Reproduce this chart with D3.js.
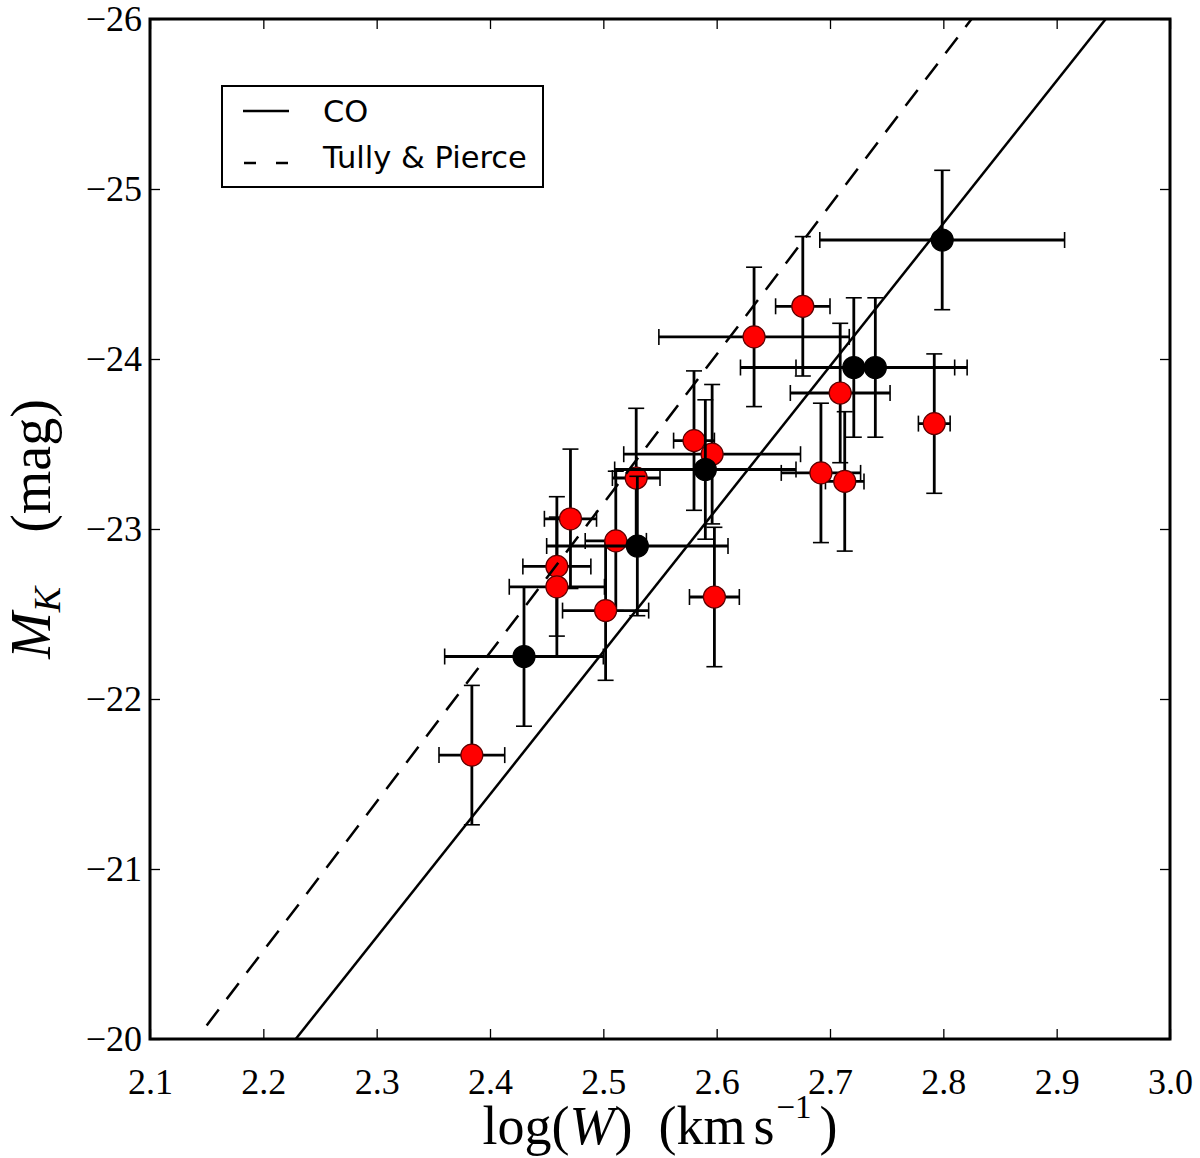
<!DOCTYPE html>
<html>
<head>
<meta charset="utf-8">
<script src="https://cdnjs.cloudflare.com/ajax/libs/d3/7.8.5/d3.min.js"></script>
<style>
  body { margin: 0; background: #fff; }
</style>
</head>
<body>
<svg width="1200" height="1158"></svg>
<script>
// red sample: log(W), M_K and their errors
const redLogW = [2.384, 2.459, 2.459, 2.471, 2.502, 2.511, 2.529, 2.580, 2.596, 2.598, 2.633, 2.676, 2.709, 2.692, 2.713, 2.792];
const redMK   = [-21.67, -22.78, -22.66, -23.06, -22.52, -22.93, -23.30, -23.52, -23.44, -22.60, -24.13, -24.31, -23.80, -23.33, -23.28, -23.62];
const redErrX = [0.029, 0.030, 0.042, 0.023, 0.038, 0.027, 0.021, 0.018, 0.078, 0.022, 0.084, 0.024, 0.044, 0.035, 0.017, 0.014];
const redErrY = [0.41, 0.41, 0.41, 0.41, 0.41, 0.41, 0.41, 0.41, 0.41, 0.41, 0.41, 0.41, 0.41, 0.41, 0.41, 0.41];

// black sample
const blackLogW = [2.430, 2.530, 2.590, 2.721, 2.740, 2.799];
const blackMK   = [-22.25, -22.90, -23.35, -23.95, -23.95, -24.70];
const blackErrX = [0.070, 0.080, 0.080, 0.100, 0.070, 0.108];
const blackErrY = [0.41, 0.41, 0.41, 0.41, 0.41, 0.41];

// fitted relations (end points)
const coFit = [[2.2286, -20], [2.9433, -26]];
const tpFit = [[2.15, -20.08], [2.85, -26.22]];

const xTicks = [2.1, 2.2, 2.3, 2.4, 2.5, 2.6, 2.7, 2.8, 2.9, 3.0];
const yTicks = [-26, -25, -24, -23, -22, -21, -20];

const svg = d3.select('svg');
const margin = { top: 19, right: 30, bottom: 119, left: 150 };
const innerWidth = 1020;
const innerHeight = 1020;

const xScale = d3.scaleLinear().domain([2.1, 3.0]).range([0, innerWidth]);
const yScale = d3.scaleLinear().domain([-26, -20]).range([0, innerHeight]);

const g = svg.append('g')
  .attr('transform', `translate(${margin.left},${margin.top})`);

g.append('clipPath').attr('id', 'plot-clip')
  .append('rect').attr('width', innerWidth).attr('height', innerHeight);

const styleAxis = sel => {
  sel.attr('font-family', '"Liberation Serif", serif').attr('font-size', 36);
  sel.selectAll('.tick line').attr('stroke', '#000').attr('stroke-width', 1.3);
  sel.selectAll('.tick text').attr('fill', '#000');
};

// axes, ticks inside on all four sides
const xAxisG = g.append('g')
  .attr('transform', `translate(0,${innerHeight})`)
  .call(d3.axisBottom(xScale).tickValues(xTicks).tickSize(-10).tickFormat(d3.format('.1f')))
  .call(styleAxis);
xAxisG.selectAll('text').attr('y', 29).attr('dy', '0.71em');

g.append('g')
  .call(d3.axisTop(xScale).tickValues(xTicks).tickSize(-10))
  .call(styleAxis)
  .selectAll('text').remove();

const yAxisG = g.append('g')
  .call(d3.axisLeft(yScale).tickValues(yTicks).tickSize(-10).tickPadding(8).tickFormat(d3.format('d')))
  .call(styleAxis);
yAxisG.selectAll('text').attr('dy', '0.33em');

g.append('g')
  .attr('transform', `translate(${innerWidth},0)`)
  .call(d3.axisRight(yScale).tickValues(yTicks).tickSize(-10))
  .call(styleAxis)
  .selectAll('text').remove();

g.selectAll('.domain').remove();

const makeRows = (xs, ys, ex, ey) => xs.map((x, i) => ({ x, y: ys[i], ex: ex[i], ey: ey[i] }));
const redData = makeRows(redLogW, redMK, redErrX, redErrY);
const blackData = makeRows(blackLogW, blackMK, blackErrX, blackErrY);

const cap = 8;
const drawSeries = (data, fill, stroke) => {
  const s = g.append('g');
  const bars = s.selectAll('g.err').data(data).enter().append('g').attr('class', 'err');
  bars.append('line')
    .attr('x1', d => xScale(d.x - d.ex)).attr('x2', d => xScale(d.x + d.ex))
    .attr('y1', d => yScale(d.y)).attr('y2', d => yScale(d.y));
  bars.append('line')
    .attr('x1', d => xScale(d.x)).attr('x2', d => xScale(d.x))
    .attr('y1', d => yScale(d.y - d.ey)).attr('y2', d => yScale(d.y + d.ey));
  bars.selectAll('line').attr('stroke', '#000').attr('stroke-width', 2.8);
  // caps
  bars.append('line')
    .attr('x1', d => xScale(d.x - d.ex)).attr('x2', d => xScale(d.x - d.ex))
    .attr('y1', d => yScale(d.y) - cap).attr('y2', d => yScale(d.y) + cap);
  bars.append('line')
    .attr('x1', d => xScale(d.x + d.ex)).attr('x2', d => xScale(d.x + d.ex))
    .attr('y1', d => yScale(d.y) - cap).attr('y2', d => yScale(d.y) + cap);
  bars.append('line')
    .attr('x1', d => xScale(d.x) - cap).attr('x2', d => xScale(d.x) + cap)
    .attr('y1', d => yScale(d.y - d.ey)).attr('y2', d => yScale(d.y - d.ey));
  bars.append('line')
    .attr('x1', d => xScale(d.x) - cap).attr('x2', d => xScale(d.x) + cap)
    .attr('y1', d => yScale(d.y + d.ey)).attr('y2', d => yScale(d.y + d.ey));
  bars.selectAll('line:nth-child(n+3)').attr('stroke', '#000').attr('stroke-width', 1.6);
  s.selectAll('circle').data(data).enter().append('circle')
    .attr('cx', d => xScale(d.x))
    .attr('cy', d => yScale(d.y))
    .attr('r', 11)
    .attr('fill', fill)
    .attr('stroke', stroke)
    .attr('stroke-width', 1.2);
};

drawSeries(redData, '#ff0000', '#5c0000');
drawSeries(blackData, '#000', '#000');

// fit lines
const line = d3.line().x(d => xScale(d[0])).y(d => yScale(d[1]));
const lines = g.append('g').attr('clip-path', 'url(#plot-clip)');
lines.append('path').datum(coFit)
  .attr('d', line).attr('fill', 'none').attr('stroke', '#000').attr('stroke-width', 2.5);
lines.append('path').datum(tpFit)
  .attr('d', line).attr('fill', 'none').attr('stroke', '#000').attr('stroke-width', 2.5)
  .attr('stroke-dasharray', '20,13');

// frame
g.append('rect')
  .attr('width', innerWidth).attr('height', innerHeight)
  .attr('fill', 'none').attr('stroke', '#000').attr('stroke-width', 3);

// legend
const legend = svg.append('g').attr('transform', 'translate(222,86)');
legend.append('rect')
  .attr('width', 321).attr('height', 101)
  .attr('fill', '#fff').attr('stroke', '#000').attr('stroke-width', 2);
legend.append('line')
  .attr('x1', 21).attr('x2', 67).attr('y1', 25).attr('y2', 25)
  .attr('stroke', '#000').attr('stroke-width', 2.5);
legend.append('line')
  .attr('x1', 22).attr('x2', 66).attr('y1', 77).attr('y2', 77)
  .attr('stroke', '#000').attr('stroke-width', 2.5)
  .attr('stroke-dasharray', '12,20');
legend.selectAll('text.lab').data(['CO', 'Tully & Pierce']).enter().append('text')
  .attr('class', 'lab')
  .attr('x', 101)
  .attr('y', (d, i) => 36 + i * 46)
  .attr('font-family', '"DejaVu Sans", sans-serif')
  .attr('font-size', 30.5)
  .text(d => d);

// axis labels
const xLabel = svg.append('text')
  .attr('x', margin.left + innerWidth / 2)
  .attr('y', 1144)
  .attr('text-anchor', 'middle')
  .attr('font-family', '"Liberation Serif", serif')
  .attr('font-size', 54);
xLabel.append('tspan').text('log(');
xLabel.append('tspan').attr('font-style', 'italic').text('W');
xLabel.append('tspan').text(')');
xLabel.append('tspan').attr('dx', 26).text('(km');
xLabel.append('tspan').attr('dx', 8).text('s');
xLabel.append('tspan').attr('font-size', 33).attr('dx', 2).attr('dy', -26).text('\u22121');
xLabel.append('tspan').attr('dy', 26).attr('dx', 8).text(')');

const yLabel = svg.append('text')
  .attr('transform', `translate(50,${margin.top + innerHeight / 2}) rotate(-90)`)
  .attr('text-anchor', 'middle')
  .attr('font-family', '"Liberation Serif", serif')
  .attr('font-size', 56);
yLabel.append('tspan').attr('font-style', 'italic').text('M');
yLabel.append('tspan').attr('font-style', 'italic').attr('font-size', 38).attr('dy', 10).text('K');
yLabel.append('tspan').attr('dy', -10).attr('dx', 54).text('(mag)');
</script>
</body>
</html>
